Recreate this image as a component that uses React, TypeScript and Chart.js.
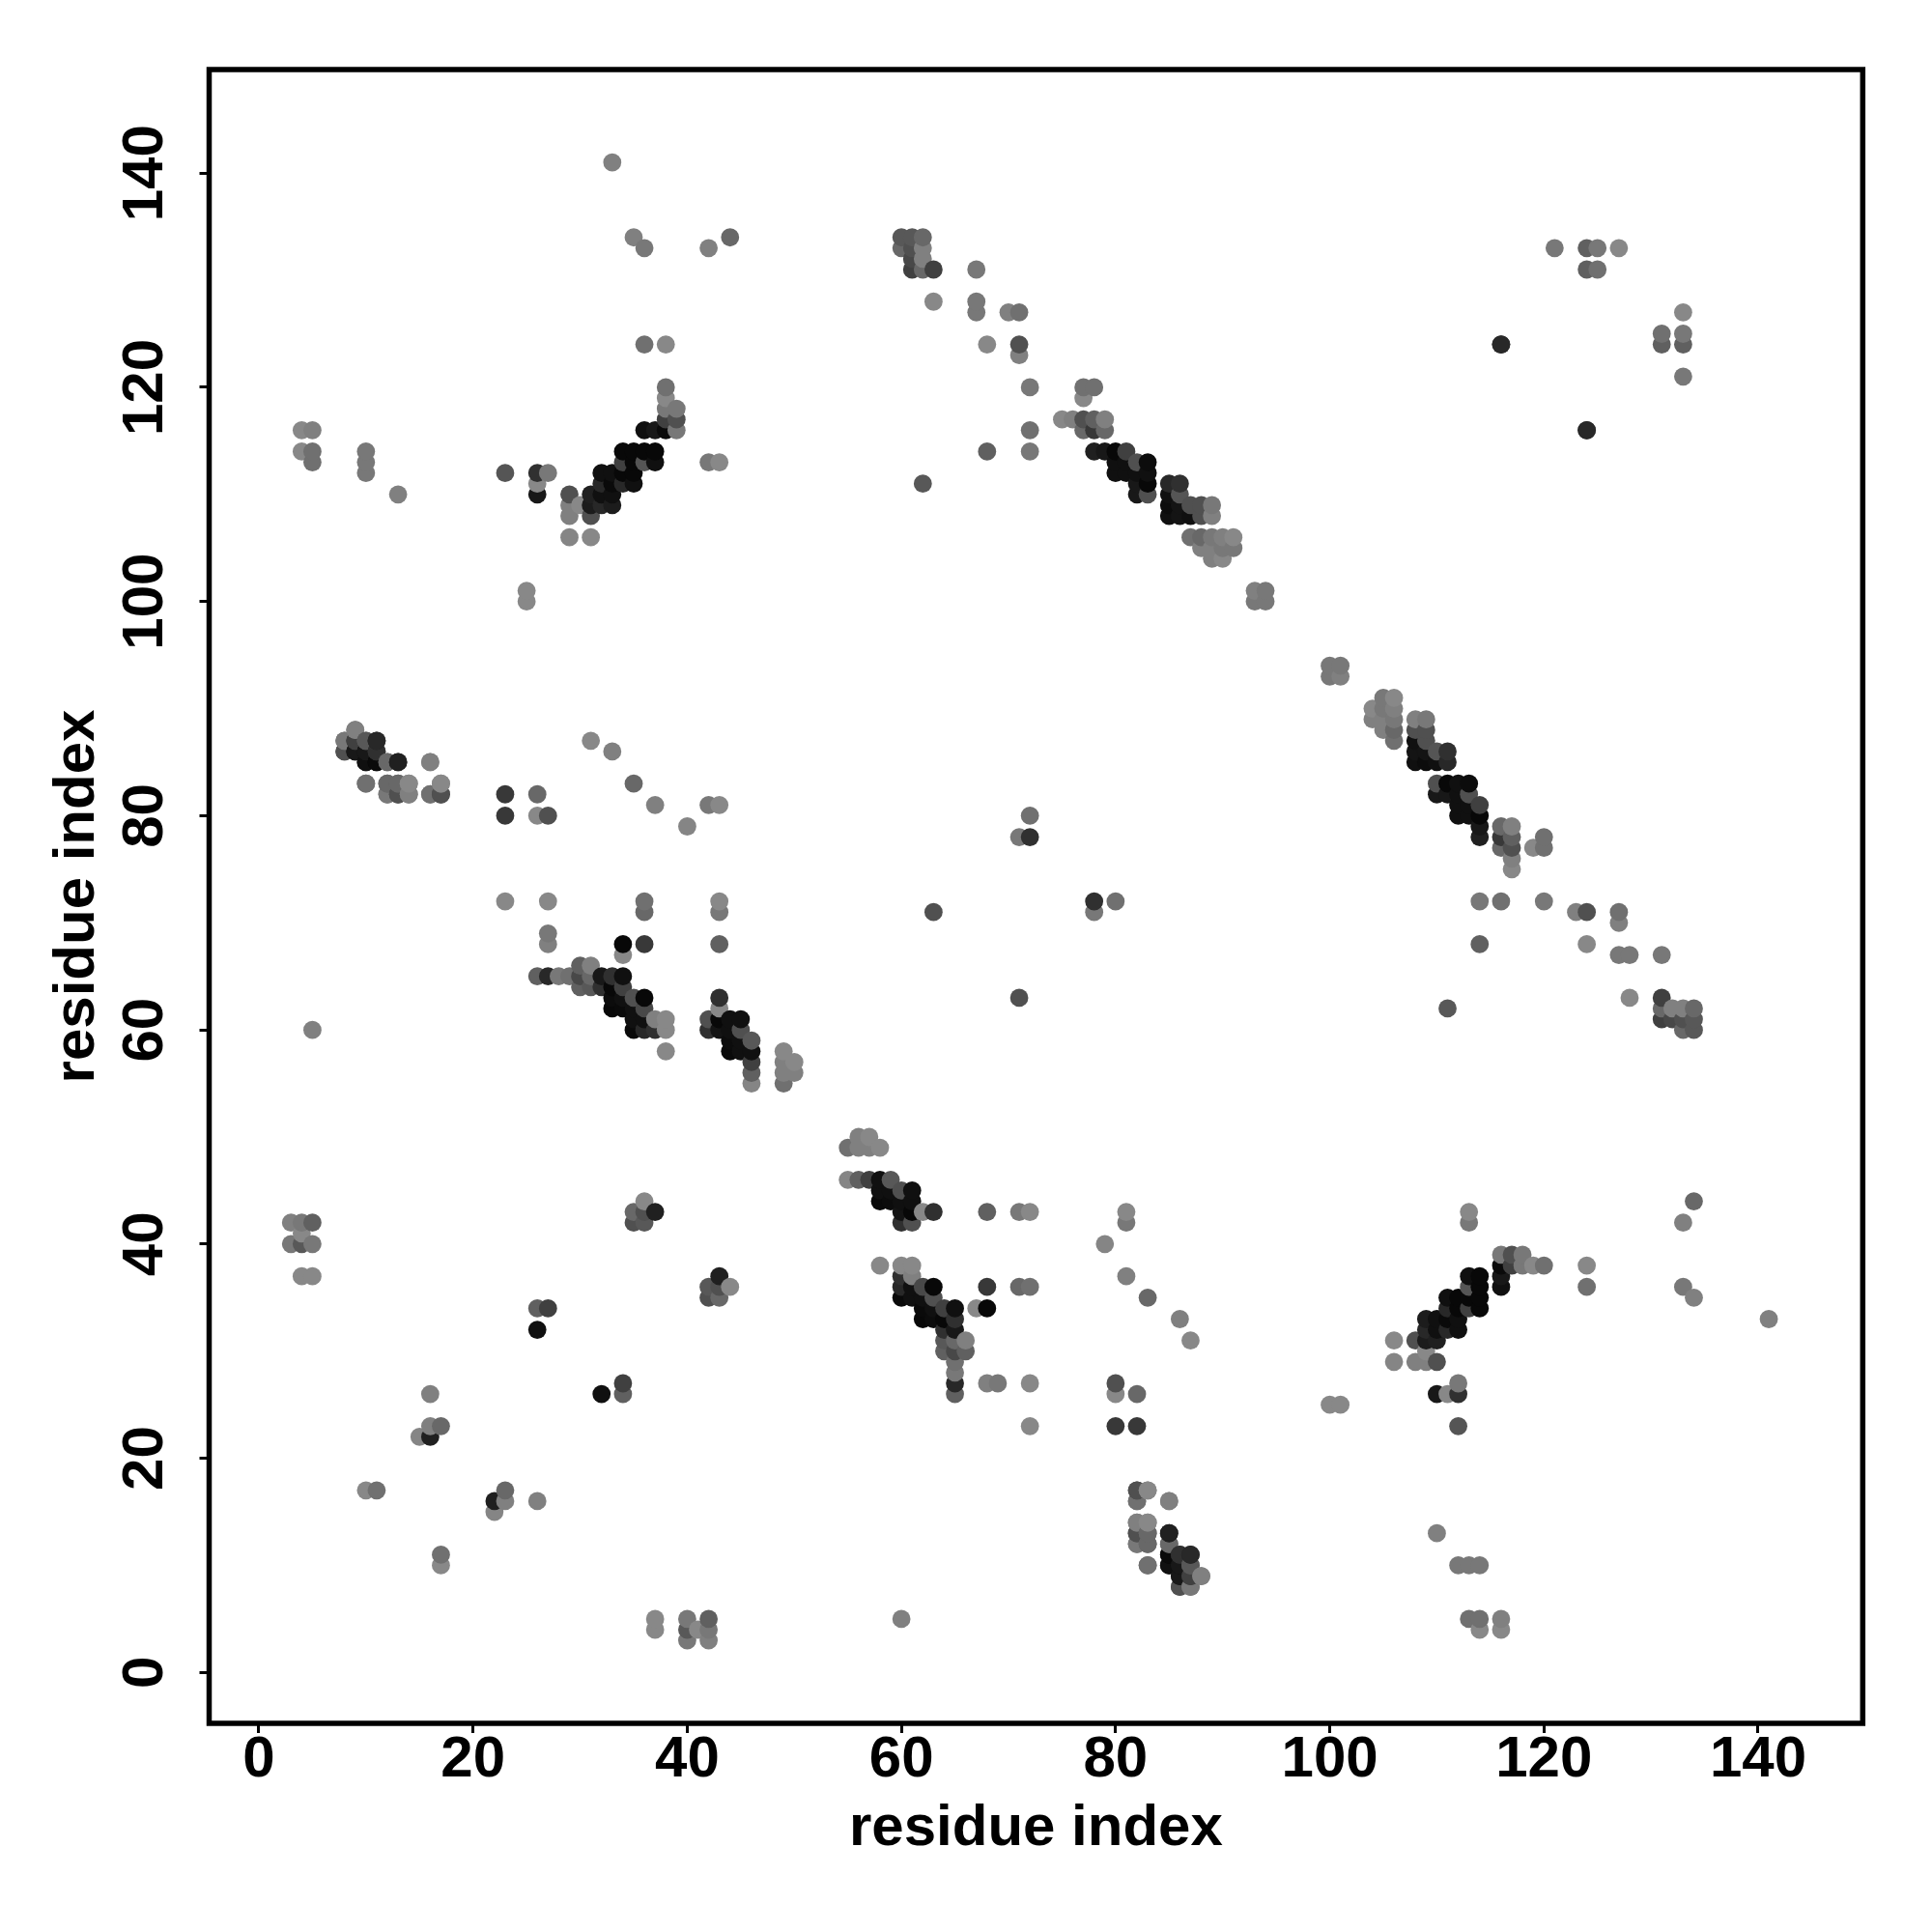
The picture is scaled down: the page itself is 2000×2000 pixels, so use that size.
import React, { useEffect, useRef } from "react";
import { Chart, registerables } from "chart.js";

Chart.register(...registerables);

// Contacts as [residue x, residue y, gray level]; the contact map is symmetric, so each pair is listed once.
const scattered: number[][] = [
  [3,40,0x78],[3,42,0x80],[4,37,0x88],[4,40,0x58],[4,41,0x88],[4,42,0x78],[5,37,0x88],[5,40,0x78],[5,42,0x60],
  [4,114,0x88],[4,116,0x88],[5,60,0x80],[5,113,0x70],[5,114,0x70],[5,116,0x80],
  [10,17,0x88],[11,17,0x70],[10,112,0x78],[10,113,0x78],[10,114,0x78],[13,110,0x80],
  [15,22,0x85],[16,22,0x20],[16,23,0x80],[17,23,0x68],[16,26,0x80],[25,100,0x88],[25,101,0x88],
  [26,32,0x10],[26,34,0x60],[27,34,0x40],[23,72,0x88],[23,80,0x38],[23,82,0x38],[23,112,0x55],
  [26,80,0x88],[26,82,0x68],[27,72,0x88],[27,80,0x50],[27,68,0x80],[27,69,0x78],
  [31,87,0x88],[33,86,0x80],[33,141,0x80],[35,83,0x68],[35,134,0x80],[36,133,0x78],[37,81,0x80],[40,79,0x85],
  [36,68,0x38],[36,71,0x68],[36,72,0x70],[34,67,0x88],[34,68,0x08],[36,124,0x70],[38,124,0x88],
  [42,81,0x78],[43,81,0x88],[42,113,0x78],[43,113,0x88],[42,133,0x80],[44,134,0x68],
  [43,68,0x60],[43,71,0x78],[43,72,0x88],
  [63,71,0x50],[62,111,0x58],[63,128,0x88],[67,127,0x78],[67,128,0x78],[67,131,0x78],[68,114,0x60],[68,124,0x88],
  [70,127,0x80],[71,78,0x78],[71,123,0x80],[71,124,0x50],[71,127,0x70],[72,78,0x30],[72,80,0x70],
  [72,114,0x78],[72,116,0x70],[72,120,0x78],[116,124,0x30],
];

const helixNearTen: number[][] = [
  [8,86,0x58],[8,87,0x70],[9,86,0x18],[9,87,0x30],[9,88,0x78],[10,83,0x70],[10,85,0x14],[10,86,0x10],[10,87,0x60],
  [11,85,0x08],[11,86,0x30],[11,87,0x20],[12,82,0x78],[12,83,0x68],[12,85,0x60],[13,82,0x50],[13,83,0x68],[13,85,0x1c],
  [14,82,0x78],[14,83,0x80],[16,82,0x78],[16,85,0x88],[17,82,0x48],[17,83,0x80],
];

const strandNearThirty: number[][] = [
  [26,110,0x18],[26,111,0x88],[26,112,0x30],[27,112,0x78],[29,106,0x85],[29,108,0x80],[29,109,0x80],[29,110,0x50],
  [30,109,0x88],[31,106,0x88],[31,108,0x50],[31,109,0x1c],[31,110,0x20],[32,109,0x28],[32,110,0x10],[32,111,0x28],[32,112,0x10],
  [33,109,0x1c],[33,110,0x10],[33,111,0x0a],[33,112,0x10],[34,111,0x28],[34,112,0x08],[34,113,0x40],[34,114,0x08],
  [35,111,0x10],[35,112,0x08],[35,113,0x08],[35,114,0x08],[36,113,0x55],[36,114,0x08],[36,116,0x10],
  [37,113,0x10],[37,114,0x08],[37,116,0x18],[38,116,0x0a],[38,117,0x40],[38,118,0x78],[38,119,0x88],[38,120,0x70],
  [39,116,0x78],[39,117,0x50],[39,118,0x78],
];

const strandNearSixty: number[][] = [
  [26,65,0x60],[27,65,0x28],[28,65,0x78],[29,65,0x70],[30,64,0x60],[30,65,0x48],[30,66,0x60],[31,64,0x58],[31,65,0x68],[31,66,0x80],
  [32,64,0x30],[32,65,0x18],[33,62,0x08],[33,63,0x0c],[33,64,0x08],[33,65,0x30],[34,62,0x0a],[34,63,0x10],[34,64,0x40],[34,65,0x10],
  [35,60,0x0a],[35,61,0x10],[35,62,0x10],[35,63,0x50],[36,60,0x28],[36,61,0x10],[36,62,0x48],[36,63,0x08],
  [37,60,0x30],[37,61,0x80],[38,58,0x88],[38,60,0x88],[38,61,0x88],
  [42,60,0x30],[42,61,0x50],[43,60,0x14],[43,61,0x08],[43,62,0x88],[43,63,0x30],[44,58,0x0a],[44,59,0x0c],[44,60,0x10],[44,61,0x10],
  [45,58,0x10],[45,59,0x10],[45,60,0x50],[45,61,0x10],[46,55,0x85],[46,56,0x60],[46,57,0x40],[46,58,0x10],[46,59,0x58],
  [49,55,0x70],[49,56,0x80],[49,57,0x80],[49,58,0x88],[50,56,0x80],[50,57,0x88],
];

const smallClusters: number[][] = [
  [35,42,0x50],[35,43,0x68],[36,42,0x58],[36,43,0x50],[36,44,0x88],[37,43,0x20],
  [60,133,0x68],[60,134,0x58],[61,131,0x40],[61,132,0x48],[61,133,0x50],[61,134,0x58],[62,131,0x68],[62,132,0x80],[62,133,0x80],[62,134,0x68],[63,131,0x40],
  [121,133,0x78],[124,131,0x60],[124,133,0x60],[125,131,0x70],[125,133,0x78],[127,133,0x88],[124,116,0x28],
];

const strandNearEighty: number[][] = [
  [75,117,0x88],[76,117,0x80],[77,116,0x68],[77,117,0x50],[77,119,0x88],[77,120,0x70],[78,114,0x20],[78,116,0x38],[78,117,0x60],[78,120,0x70],
  [79,114,0x18],[79,116,0x68],[79,117,0x80],[80,112,0x10],[80,113,0x10],[80,114,0x08],[81,112,0x10],[81,113,0x10],[81,114,0x40],
  [82,110,0x18],[82,111,0x18],[82,112,0x10],[82,113,0x50],[83,110,0x50],[83,111,0x08],[83,112,0x10],[83,113,0x0c],
  [85,108,0x10],[85,109,0x0c],[85,110,0x10],[85,111,0x28],[86,108,0x14],[86,109,0x14],[86,110,0x55],[86,111,0x30],
  [87,106,0x70],[87,108,0x10],[87,109,0x50],[88,105,0x80],[88,106,0x68],[88,108,0x50],[88,109,0x50],
  [89,104,0x80],[89,105,0x80],[89,106,0x78],[89,108,0x80],[89,109,0x78],[90,104,0x88],[90,105,0x78],[90,106,0x80],[91,105,0x78],[91,106,0x88],
  [93,100,0x78],[93,101,0x80],[94,100,0x78],[94,101,0x78],
];

const helixNearEightyFive: number[][] = [
  [82,14,0x80],[83,14,0x88],[82,16,0x70],[82,17,0x50],[83,17,0x88],[85,16,0x80],[82,13,0x50],[83,13,0x68],[85,13,0x20],
  [82,12,0x78],[83,12,0x68],[85,12,0x68],[85,11,0x0a],[86,11,0x30],[87,11,0x28],[83,10,0x70],[85,10,0x10],[86,10,0x18],[87,10,0x58],
  [86,9,0x18],[87,9,0x40],[88,9,0x80],[86,8,0x50],[87,8,0x78],
];

const tickValues = [0, 20, 40, 60, 80, 100, 120, 140];
const axisTitle = "residue index";
const FONT = '"Liberation Sans", Arial, sans-serif';

const framePlugin = {
  id: "frame",
  afterDraw(chart: any) {
    const { ctx, chartArea: a } = chart;
    ctx.save();
    ctx.strokeStyle = "#000";
    ctx.lineWidth = 5.5;
    ctx.strokeRect(a.left, a.top, a.right - a.left, a.bottom - a.top);
    ctx.restore();
  },
};

export default function App() {
  const ref = useRef<HTMLCanvasElement>(null);
  useEffect(() => {
    const pts: { x: number; y: number; g: number }[] = [];
    const all = [...scattered, ...helixNearTen, ...strandNearThirty, ...strandNearSixty, ...smallClusters, ...strandNearEighty, ...helixNearEightyFive];
    for (const [a, b, g] of all) {
      pts.push({ x: a, y: b, g });
      pts.push({ x: b, y: a, g });
    }
    pts.sort((p, q) => p.x - q.x || p.y - q.y);
    const colors = pts.map((p) => `rgb(${p.g},${p.g},${p.g})`);
    const tickFont = { family: FONT, weight: "bold", size: 60 };
    const chart = new Chart(ref.current!, {
      type: "scatter",
      data: {
        datasets: [
          {
            data: pts.map((p) => ({ x: p.x, y: p.y })),
            backgroundColor: colors,
            borderWidth: 0,
            pointRadius: 9.4,
            pointHoverRadius: 9.4,
          },
        ],
      },
      options: {
        animation: false,
        responsive: false,
        layout: { padding: { top: 72, right: 71.7, left: 0, bottom: 0 } },
        plugins: { legend: { display: false }, tooltip: { enabled: false } },
        scales: {
          x: {
            type: "linear",
            min: -4.645,
            max: 149.77,
            afterFit: (s: any) => { s.height = 216; },
            afterBuildTicks: (s: any) => { s.ticks = tickValues.map((value) => ({ value })); },
            grid: { drawOnChartArea: false, drawTicks: true, tickLength: 10, tickColor: "#000", tickWidth: 3 },
            border: { display: false },
            ticks: { color: "#000", font: tickFont, padding: -8, maxRotation: 0, autoSkip: false },
            title: { display: true, text: axisTitle, color: "#000", font: tickFont, padding: { top: 0, bottom: 71 } },
          },
          y: {
            type: "linear",
            min: -4.75,
            max: 149.67,
            afterFit: (s: any) => { s.width = 216.5; },
            afterBuildTicks: (s: any) => { s.ticks = tickValues.map((value) => ({ value })); },
            grid: { drawOnChartArea: false, drawTicks: true, tickLength: 10, tickColor: "#000", tickWidth: 3 },
            border: { display: false },
            ticks: { color: "#000", font: tickFont, padding: 5, minRotation: 90, maxRotation: 90, crossAlign: "center", autoSkip: false },
            title: { display: true, text: axisTitle, color: "#000", font: tickFont, padding: { top: 44, bottom: 0 } },
          },
        },
      },
      plugins: [framePlugin],
    } as any);
    return () => chart.destroy();
  }, []);
  return <canvas ref={ref} width={2000} height={2000} style={{ position: "absolute", left: 0, top: 0, display: "block" }} />;
}
